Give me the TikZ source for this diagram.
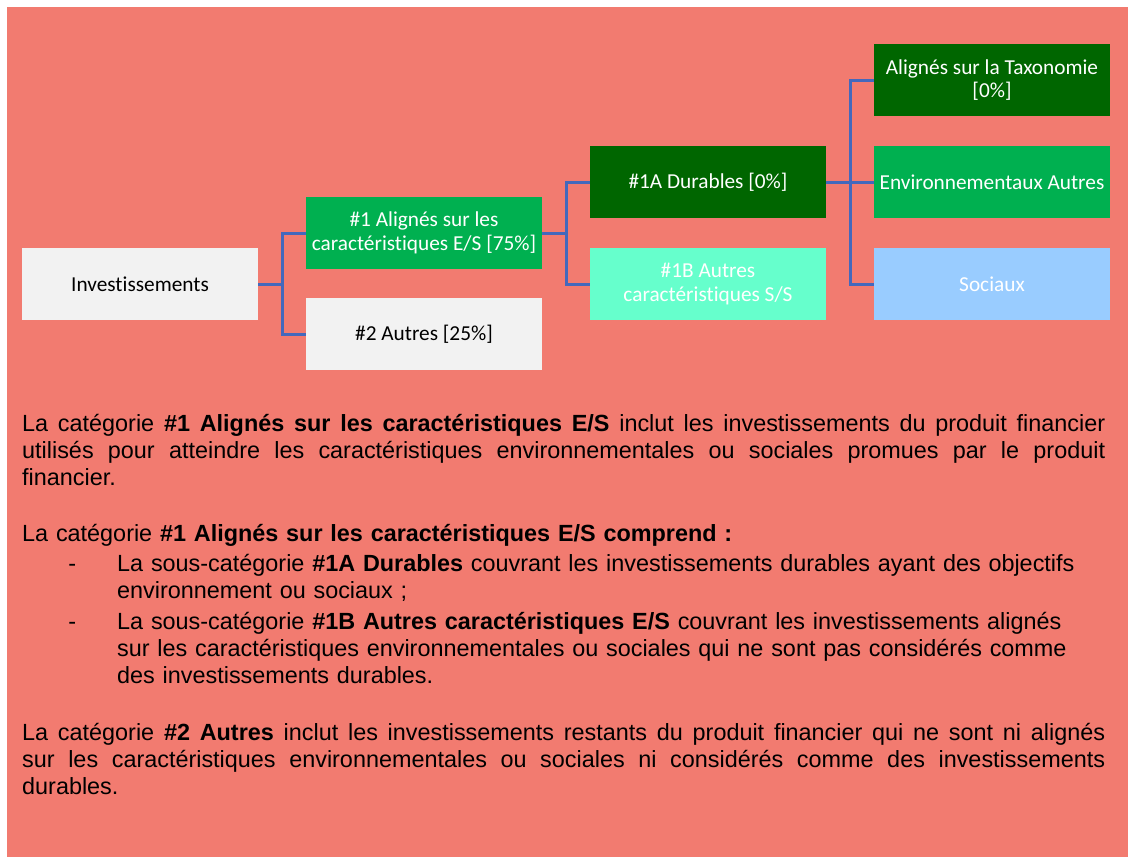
\documentclass[tikz,border=0pt]{standalone}
\usepackage{fontspec}
\setmainfont{Liberation Sans}
\newfontfamily\boxfont[Ligatures=NoCommon]{Carlito}
\definecolor{salmon}{HTML}{F27B70}
\definecolor{boxgrey}{HTML}{F2F2F2}
\definecolor{midgreen}{HTML}{00B050}
\definecolor{darkgreen}{HTML}{006600}
\definecolor{mint}{HTML}{66FFCC}
\definecolor{skyblue}{HTML}{99CCFF}
\definecolor{linkblue}{HTML}{4468BC}
\begin{document}
\begin{tikzpicture}[x=1pt,y=-1pt,
    box/.style={rectangle, minimum width=236pt, minimum height=72pt, inner sep=0pt,
      align=center, font=\boxfont\fontsize{21.3}{23.5}\selectfont},
    greybox/.style={box, fill=boxgrey, text=black},
    colbox/.style={box, fill=#1, text=white},
    link/.style={draw=linkblue, line width=3pt},
    para/.style={anchor=base west, inner sep=0pt, text width=1083pt,
      font=\fontsize{23.4}{27}\selectfont}]
    \useasboundingbox (0,0) rectangle (1128,857);
    \fill[white] (0,0) rectangle (1128,857);
    \fill[salmon] (7,7) rectangle (1128,857);

    \node[greybox] (inv) at (140,284) {Investissements};
    \node[colbox=midgreen] (cat1) at (424,233) {\#1 Alignés sur les\\caractéristiques E/S [75\%]};
    \node[greybox] (cat2) at (424,334) {\#2 Autres [25\%]};
    \node[colbox=darkgreen] (dur) at (708,182) {\#1A Durables [0\%]};
    \node[colbox=mint] (oth) at (708,284) {\#1B Autres\\caractéristiques S/S};
    \node[colbox=darkgreen] (tax) at (992,80) {Alignés sur la Taxonomie\\{}[0\%]};
    \node[colbox=midgreen] (env) at (992,182) {Environnementaux Autres};
    \node[colbox=skyblue] (soc) at (992,284) {Sociaux};

    \draw[link] (inv.east) -- ++(24,0) |- (cat1.west);
    \draw[link] (inv.east) -- ++(24,0) |- (cat2.west);
    \draw[link] (cat1.east) -- ++(24,0) |- (dur.west);
    \draw[link] (cat1.east) -- ++(24,0) |- (oth.west);
    \draw[link] (dur.east) -- ++(24,0) |- (tax.west);
    \draw[link] (dur.east) -- ++(24,0) |- (env.west);
    \draw[link] (dur.east) -- ++(24,0) |- (soc.west);

    \node[para, align=justify] (txt1) at (22,431) {La catégorie \textbf{\#1 Alignés sur les caractéristiques E/S} inclut les investissements du produit financier\linebreak
      utilisés pour atteindre les caractéristiques environnementales ou sociales promues par le produit\linebreak
      financier.};
    \node[para] (txt2) at (22,541) {La catégorie \textbf{\#1 Alignés sur les caractéristiques E/S comprend :}\par
      \vspace{3pt}\leftskip=95pt
      \leavevmode\llap{-\hspace{41pt}}La sous-catégorie \textbf{\#1A Durables} couvrant les investissements durables ayant des objectifs\newline
      environnement ou sociaux~;\par
      \vspace{4pt}
      \leavevmode\llap{-\hspace{41pt}}La sous-catégorie \textbf{\#1B Autres caractéristiques E/S} couvrant les investissements alignés\newline
      sur les caractéristiques environnementales ou sociales qui ne sont pas considérés comme\newline
      des investissements durables.\par};
    \node[para, align=justify] (txt3) at (22,740) {La catégorie \textbf{\#2 Autres} inclut les investissements restants du produit financier qui ne sont ni alignés\linebreak
      sur les caractéristiques environnementales ou sociales ni considérés comme des investissements\linebreak
      durables.};
\end{tikzpicture}
\end{document}
